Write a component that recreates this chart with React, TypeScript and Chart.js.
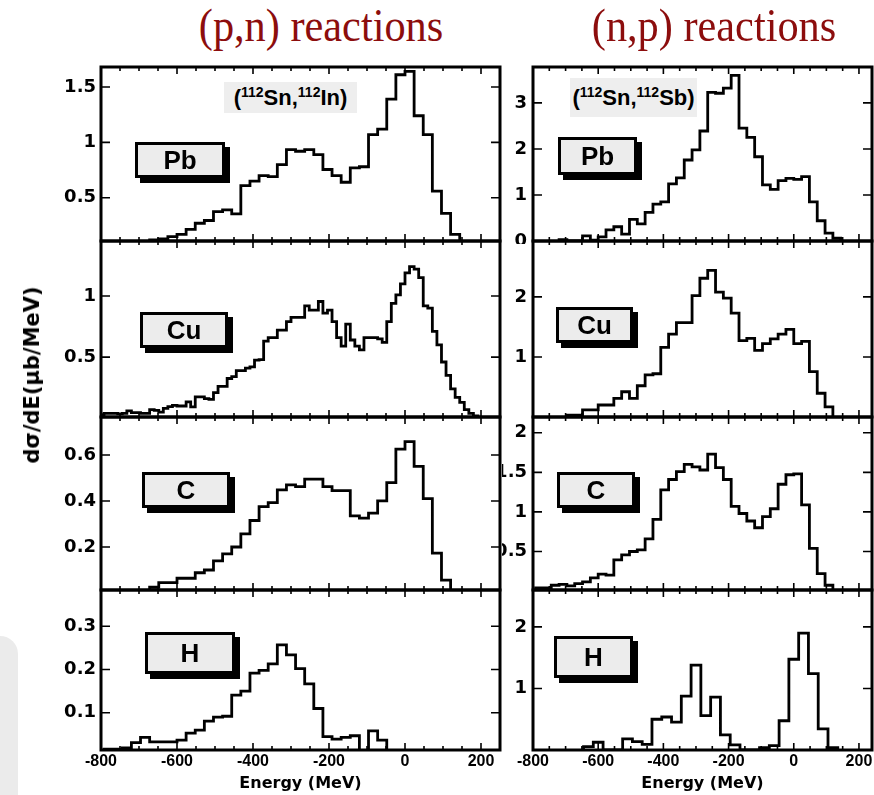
import React, { useEffect, useRef } from 'react';
import { Chart, registerables } from 'chart.js';

Chart.register(...registerables);

// ---------------- data ----------------
const columnTitles = ['(p,n) reactions', '(n,p) reactions'];
const targets = ['Pb', 'Cu', 'C', 'H'];
const energyTicks = [-800, -600, -400, -200, 0, 200];
const energyMin = -800;
const energyMaxPN = 250;
const energyMaxNP = 240;
const energyMinorStep = 50;
const energyTitle = 'Energy (MeV)';
const yTitle = 'dσ/dE(μb/MeV)';

// (p,n): (112Sn,112In)
const pbPnStart = -696;
const pbPnBin = 24;
const pbPnValues = [0.09, 0.12, 0.13, 0.15, 0.17, 0.215, 0.27, 0.295, 0.375, 0.39, 0.355, 0.61, 0.65, 0.70, 0.69, 0.80, 0.935, 0.92, 0.935, 0.89, 0.755, 0.70, 0.64, 0.77, 0.78, 1.07, 1.12, 1.39, 1.61, 1.64, 1.24, 1.07, 0.56, 0.36, 0.17];
const pbPnTicks = [0.5, 1, 1.5];

const cuPnStart = -804;
const cuPnBin = 12;
const cuPnValues = [0.03, 0.04, 0.04, 0.04, 0.035, 0.04, 0.06, 0.045, 0.045, 0.04,
  0.04, 0.07, 0.065, 0.05, 0.08, 0.095, 0.105, 0.10, 0.10, 0.134,
  0.093, 0.175, 0.175, 0.16, 0.155, 0.21, 0.26, 0.26, 0.325, 0.34,
  0.39, 0.39, 0.41, 0.42, 0.475, 0.48, 0.63, 0.66, 0.66, 0.72,
  0.72, 0.79, 0.825, 0.825, 0.825, 0.92, 0.885, 0.885, 0.955, 0.86,
  0.885, 0.79, 0.66, 0.59, 0.77, 0.64, 0.59, 0.56, 0.66, 0.66,
  0.66, 0.65, 0.62, 0.79, 0.94, 1.01, 1.10, 1.19, 1.24, 1.22,
  1.15, 0.92, 0.90, 0.71, 0.60, 0.46, 0.35, 0.24, 0.17, 0.13,
  0.07, 0.04, 0.02];
const cuPnTicks = [0.5, 1];

const cPnStart = -672;
const cPnBin = 24;
const cPnValues = [0.025, 0.045, 0.045, 0.064, 0.064, 0.088, 0.10, 0.14, 0.17, 0.20, 0.257, 0.315, 0.375, 0.393, 0.448, 0.47, 0.462, 0.495, 0.495, 0.462, 0.445, 0.445, 0.335, 0.325, 0.347, 0.40, 0.48, 0.625, 0.658, 0.55, 0.41, 0.173, 0.056];
const cPnTicks = [0.2, 0.4, 0.6];

const hPnStart = -792;
const hPnBin = 24;
const hPnValues = [0.016, 0.016, 0.019, 0.031, 0.043, 0.033, 0.033, 0.033, 0.037, 0.053, 0.06, 0.081, 0.09, 0.092, 0.141, 0.15, 0.192, 0.198, 0.213, 0.257, 0.234, 0.202, 0.167, 0.11, 0.045, 0.039, 0.043, 0.047, 0, 0.058, 0.037];
const hPnTicks = [0.1, 0.2, 0.3];

// (n,p): (112Sn,112Sb)
const pbNpStart = -720;
const pbNpBin = 24;
const pbNpValues = [0.03, 0, 0, 0.11, 0.02, 0.09, 0.24, 0.31, 0.15, 0.47, 0.37, 0.62, 0.80, 0.85, 1.24, 1.37, 1.76, 1.98, 2.39, 3.23, 3.21, 3.32, 3.6, 2.45, 2.25, 1.83, 1.22, 1.12, 1.31, 1.36, 1.34, 1.40, 0.85, 0.44, 0.17, 0.06];
const pbNpTicks = [0, 1, 2, 3];

const cuNpStart = -696;
const cuNpBin = 24;
const cuNpValues = [0.03, 0.03, 0.12, 0.12, 0.20, 0.20, 0.31, 0.42, 0.31, 0.52, 0.70, 0.72, 1.16, 1.38, 1.57, 1.57, 2.02, 2.31, 2.44, 2.08, 1.98, 1.73, 1.27, 1.31, 1.11, 1.22, 1.30, 1.38, 1.46, 1.22, 1.26, 0.755, 0.395, 0.17];
const cuNpTicks = [1, 2];

const cNpStart = -792;
const cNpBin = 24;
const cNpValues = [0.04, 0.04, 0.073, 0.085, 0.064, 0.094, 0.115, 0.167, 0.214, 0.20, 0.393, 0.457, 0.50, 0.52, 0.66, 0.906, 1.28, 1.41, 1.51, 1.60, 1.57, 1.53, 1.73, 1.56, 1.41, 1.07, 0.98, 0.885, 0.80, 0.94, 1.04, 1.35, 1.47, 1.48, 1.09, 0.54, 0.22, 0.073];
const cNpTicks = [0.5, 1, 1.5, 2];

const hNpStart = -645;
const hNpBin = 30;
const hNpValues = [0.054, 0.126, 0, 0, 0.18, 0.137, 0.093, 0.50, 0.536, 0.454, 0.874, 1.38, 0.56, 0.86, 0.246, 0.082, 0, 0, 0.04, 0.07, 0.475, 1.475, 1.90, 1.24, 0.344, 0.04];
const hNpTicks = [1, 2];

// ---------------- layout ----------------
const COLS = [
  { left: 0, width: 504, axisW: 101, padR: 4, xMax: energyMaxPN, labelPad: 5 },
  { left: 502, width: 372, axisW: 31, padR: 2, xMax: energyMaxNP, labelPad: 6 },
];
const ROWS = [
  { top: 67, bottom: 241 },
  { top: 241, bottom: 417 },
  { top: 417, bottom: 590 },
  { top: 590, bottom: 750 },
];
const PAD_T = 12;

type PanelCfg = {
  col: number; row: number; start: number; bin: number; values: number[];
  ticks: number[]; yMin: number; yMax: number;
};

const PANELS: PanelCfg[] = [
  { col: 0, row: 0, start: pbPnStart, bin: pbPnBin, values: pbPnValues, ticks: pbPnTicks, yMin: 0.11, yMax: 1.68 },
  { col: 0, row: 1, start: cuPnStart, bin: cuPnBin, values: cuPnValues, ticks: cuPnTicks, yMin: 0.01, yMax: 1.45 },
  { col: 0, row: 2, start: cPnStart, bin: cPnBin, values: cPnValues, ticks: cPnTicks, yMin: 0.013, yMax: 0.765 },
  { col: 0, row: 3, start: hPnStart, bin: hPnBin, values: hPnValues, ticks: hPnTicks, yMin: 0.014, yMax: 0.384 },
  { col: 1, row: 0, start: pbNpStart, bin: pbNpBin, values: pbNpValues, ticks: pbNpTicks, yMin: 0, yMax: 3.78 },
  { col: 1, row: 1, start: cuNpStart, bin: cuNpBin, values: cuNpValues, ticks: cuNpTicks, yMin: 0, yMax: 2.93 },
  { col: 1, row: 2, start: cNpStart, bin: cNpBin, values: cNpValues, ticks: cNpTicks, yMin: 0.013, yMax: 2.2 },
  { col: 1, row: 3, start: hNpStart, bin: hNpBin, values: hNpValues, ticks: hNpTicks, yMin: 0, yMax: 2.6 },
];

const LABEL_BOXES = [
  [{ l: 135, t: 142, w: 90, h: 36 }, { l: 558, t: 137, w: 79, h: 38 }],
  [{ l: 140, t: 312, w: 88, h: 36 }, { l: 556, t: 307, w: 77, h: 36 }],
  [{ l: 142, t: 472, w: 88, h: 36 }, { l: 557, t: 472, w: 78, h: 36 }],
  [{ l: 145, t: 632, w: 90, h: 42 }, { l: 554, t: 636, w: 79, h: 42 }],
];

function histPoints(start: number, width: number, values: number[]) {
  const pts = [{ x: start, y: 0 }];
  values.forEach((v, i) => pts.push({ x: start + i * width, y: v }));
  pts.push({ x: start + values.length * width, y: 0 });
  return pts;
}

const framePlugin = {
  id: 'frameTicks',
  afterDraw(chart: any) {
    const { ctx, chartArea: a, scales } = chart;
    const xs = scales.x;
    const ys = scales.y;
    ctx.save();
    ctx.strokeStyle = '#000';
    ctx.lineWidth = 1.6;
    ctx.beginPath();
    for (let v = xs.min; v <= xs.max + 1e-6; v += energyMinorStep) {
      const px = xs.getPixelForValue(v);
      const len = Math.abs(v % 200) < 1e-6 ? 7 : 4;
      ctx.moveTo(px, a.bottom);
      ctx.lineTo(px, a.bottom - len);
      ctx.moveTo(px, a.top);
      ctx.lineTo(px, a.top + len);
    }
    ys.ticks.forEach((t: any) => {
      const py = ys.getPixelForValue(t.value);
      ctx.moveTo(a.left, py);
      ctx.lineTo(a.left + 9, py);
      ctx.moveTo(a.right, py);
      ctx.lineTo(a.right - 9, py);
    });
    ctx.stroke();
    ctx.lineWidth = 3;
    ctx.strokeRect(a.left, a.top, a.right - a.left, a.bottom - a.top);
    ctx.restore();
  },
};

function HistPanel({ p }: { p: PanelCfg }) {
  const ref = useRef<HTMLCanvasElement>(null);
  const col = COLS[p.col];
  const row = ROWS[p.row];
  const isBottom = p.row === 3;
  const xAxisH = isBottom ? 45 : 12;
  const w = col.width;
  const h = PAD_T + (row.bottom - row.top) + xAxisH;

  useEffect(() => {
    const chart = new Chart(ref.current as HTMLCanvasElement, {
      type: 'line',
      data: {
        datasets: [{
          data: histPoints(p.start, p.bin, p.values),
          stepped: 'before',
          borderColor: '#000',
          borderWidth: 2.8,
          pointRadius: 0,
          fill: false,
          tension: 0,
          borderJoinStyle: 'miter',
        }],
      },
      options: {
        animation: false,
        responsive: false,
        maintainAspectRatio: false,
        events: [],
        layout: { padding: { top: PAD_T, right: col.padR, left: 0, bottom: 0 } },
        plugins: { legend: { display: false }, tooltip: { enabled: false }, title: { display: false } },
        scales: {
          x: {
            type: 'linear',
            min: energyMin,
            max: col.xMax,
            bounds: 'data',
            grid: { display: false, drawTicks: false },
            border: { display: false },
            ticks: {
              display: isBottom,
              autoSkip: false,
              maxRotation: 0,
              padding: 2,
              color: '#000',
              font: { family: '"Liberation Sans", Arial, sans-serif', size: 16, weight: 'bold' },
              callback: (v: any) => String(v),
            },
            title: {
              display: isBottom,
              text: energyTitle,
              color: '#000',
              font: { family: '"DejaVu Sans", sans-serif', size: 16, weight: 'bold' },
              padding: { top: 0, bottom: 2 },
            },
            afterBuildTicks: (s: any) => { s.ticks = energyTicks.map((v) => ({ value: v })); },
            afterFit: (s: any) => { s.height = xAxisH; s.paddingLeft = 0; s.paddingRight = 0; },
          },
          y: {
            type: 'linear',
            min: p.yMin,
            max: p.yMax,
            bounds: 'data',
            grid: { display: false, drawTicks: false },
            border: { display: false },
            ticks: {
              padding: col.labelPad,
              color: '#000',
              font: { family: '"DejaVu Sans", sans-serif', size: 18, weight: 'bold' },
              callback: (v: any) => String(v),
            },
            afterBuildTicks: (s: any) => { s.ticks = p.ticks.map((v) => ({ value: v })); },
            afterFit: (s: any) => { s.width = col.axisW; s.paddingTop = 0; s.paddingBottom = 0; },
          },
        },
      } as any,
      plugins: [framePlugin as any],
    } as any);
    return () => chart.destroy();
  }, []);

  return (
    <canvas
      ref={ref}
      width={w}
      height={h}
      style={{ position: 'absolute', left: col.left, top: row.top - PAD_T, width: w, height: h }}
    />
  );
}

const supStyle: React.CSSProperties = { fontSize: '14px', verticalAlign: '8px', lineHeight: 0 };

export default function App() {
  return (
    <div style={{ position: 'absolute', left: 0, top: 0, width: 874, height: 795, background: '#fff', overflow: 'hidden' }}>
      <div style={{ position: 'absolute', left: -20, top: 636, width: 38, height: 180, background: '#ebebeb', borderRadius: 18 }} />
      {PANELS.map((p, i) => <HistPanel key={i} p={p} />)}
      <div style={{ position: 'absolute', left: 502, top: 244, width: 29, height: 9, background: '#fff' }} />
      {columnTitles.map((t, i) => (
        <div key={t} style={{
          position: 'absolute', left: i === 0 ? 321 : 714, top: 3, transform: 'translateX(-50%) scaleX(0.92)',
          font: '46px "Liberation Serif", "Times New Roman", serif', lineHeight: '46px', color: '#8c0d0d', whiteSpace: 'nowrap',
        }}>{t}</div>
      ))}
      <div style={{
        position: 'absolute', left: 32, top: 375, transform: 'translate(-50%, -50%) rotate(-90deg)',
        font: 'bold 21px "DejaVu Sans", sans-serif', color: '#000', whiteSpace: 'nowrap', lineHeight: '24px',
      }}>{yTitle}</div>
      <div style={{
        position: 'absolute', left: 224, top: 82, width: 133, height: 31, background: '#eeeeee',
        display: 'flex', alignItems: 'center', justifyContent: 'center',
        font: 'bold 22px "Liberation Sans", Arial, sans-serif', color: '#000', whiteSpace: 'nowrap',
      }}><span>(<sup style={supStyle}>112</sup>Sn,<sup style={supStyle}>112</sup>In)</span></div>
      <div style={{
        position: 'absolute', left: 570, top: 78, width: 127, height: 39, background: '#eeeeee',
        display: 'flex', alignItems: 'center', justifyContent: 'center',
        font: 'bold 22px "Liberation Sans", Arial, sans-serif', color: '#000', whiteSpace: 'nowrap',
      }}><span>(<sup style={supStyle}>112</sup>Sn,<sup style={supStyle}>112</sup>Sb)</span></div>
      {LABEL_BOXES.map((pair, r) => pair.map((b, c) => (
        <div key={`${r}-${c}`} style={{
          position: 'absolute', left: b.l, top: b.t, width: b.w, height: b.h, boxSizing: 'border-box',
          border: '3px solid #000', background: '#ececec', boxShadow: '5px 5px 0 #000',
          display: 'flex', alignItems: 'center', justifyContent: 'center',
          font: 'bold 26px "Liberation Sans", Arial, sans-serif', color: '#000',
        }}>{targets[r]}</div>
      )))}
    </div>
  );
}
